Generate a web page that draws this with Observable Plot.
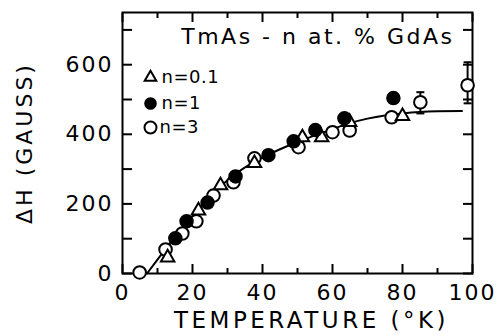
<!DOCTYPE html>
<html><head><meta charset="utf-8">
<script src="https://cdn.jsdelivr.net/npm/d3@7"></script>
<script src="https://cdn.jsdelivr.net/npm/@observablehq/plot@0.6"></script>
<style>
body{margin:0;background:#fff}
svg{font-family:"DejaVu Sans",sans-serif}
g[aria-label="x-axis tick label"] text, g[aria-label="y-axis tick label"] text {letter-spacing:2px}
g[aria-label="y-axis label"] text {letter-spacing:3px}
</style>
</head><body><div id="chart"></div>
<script>
// n = 0.1 (open triangles)
const triT = [12.9, 21.7, 28, 37.7, 51.4, 56.9, 64.9, 80];
const triH = [46, 181, 253, 317, 391, 391, 435, 452];
// n = 1 (filled circles)
const fillT = [15.1, 18.3, 24.3, 32.3, 41.7, 48.9, 55.1, 63.4, 77.4];
const fillH = [101, 150, 204, 279, 340, 380, 412, 446, 504];
// n = 3 (open circles)
const openT = [4.9, 12.3, 17.1, 21.1, 26, 31.7, 37.7, 50.3, 60, 64.9, 76.9, 85.1, 98.6];
const openH = [3, 69, 115, 150, 224, 262, 331, 363, 406, 411, 449, 492, 541];
// error bars (n = 3)
const errT = [85.1, 98.6];
const errLo = [460, 489];
const errHi = [521, 607];
// fitted curve
const fitT = [7, 10, 15, 20, 25, 30, 35, 40, 45, 50, 55, 60, 65, 70, 75, 80, 85, 90, 97];
const fitH = [0, 40, 105, 165, 220, 268, 305, 333, 357, 378, 397, 415, 432, 445, 454, 460, 464, 466, 467];
// ticks
const xMajor = [0, 20, 40, 60, 80, 100];
const xMinor = [10, 30, 50, 70, 90];
const yMajor = [0, 200, 400, 600];
const yMinor = [100, 300, 500, 700];
const titleText = "TmAs - n at. % GdAs";
const xLabel = "TEMPERATURE (°K)";
const yLabel = "ΔH (GAUSS)";
const legendLabels = ["n=0.1", "n=1", "n=3"];

const tri = triT.map((t, i) => ({t, h: triH[i]}));
const fil = fillT.map((t, i) => ({t, h: fillH[i]}));
const opn = openT.map((t, i) => ({t, h: openH[i]}));
const err = errT.map((t, i) => ({t, lo: errLo[i], hi: errHi[i]}));
const fit = fitT.map((t, i) => ({t, h: fitH[i]}));

const cap = {draw(ctx, size) { const w = 4; ctx.moveTo(-w, 0); ctx.lineTo(w, 0); }};
const fs = 22;
const sw = 2;
const tickOpts = {tickFormat: () => "", label: null, strokeWidth: sw};
const lg = {frameAnchor: "top-left", text: d => d, textAnchor: "start", lineAnchor: "middle", fontSize: 18};

const chart = Plot.plot({
  width: 498, height: 335,
  marginLeft: 122, marginRight: 26, marginTop: 12, marginBottom: 62,
  style: {fontFamily: "DejaVu Sans", fontSize: fs + "px", color: "#000", background: "#fff"},
  x: {domain: [0, 100]},
  y: {domain: [0, 750]},
  marks: [
    // inward ticks
    Plot.axisX(xMajor, {anchor: "bottom", tickSize: -9, ...tickOpts}),
    Plot.axisX(xMinor, {anchor: "bottom", tickSize: -5, ...tickOpts}),
    Plot.axisX(xMajor, {anchor: "top", tickSize: -9, ...tickOpts}),
    Plot.axisX(xMinor, {anchor: "top", tickSize: -5, ...tickOpts}),
    Plot.axisY(yMajor.concat(yMinor), {anchor: "left", tickSize: -10, ...tickOpts}),
    Plot.axisY(yMajor.concat(yMinor), {anchor: "right", tickSize: -10, ...tickOpts}),
    // labels
    Plot.axisX(xMajor, {anchor: "bottom", tickSize: 0, tickPadding: 11, fontSize: fs, label: null}),
    Plot.text([xLabel], {frameAnchor: "bottom", text: d => d, textAnchor: "middle", lineAnchor: "bottom",
      dx: 14, dy: 54, fontSize: 23}),
    Plot.axisY(yMajor, {anchor: "left", tickSize: 0, tickPadding: 9, fontSize: fs,
      label: yLabel, labelAnchor: "center", labelArrow: "none", labelOffset: 106}),
    Plot.frame({strokeWidth: sw}),
    // fit curve
    Plot.line(fit, {x: "t", y: "h", curve: "natural", strokeWidth: sw}),
    // error bars
    Plot.ruleX(err, {x: "t", y1: "lo", y2: "hi", strokeWidth: sw}),
    Plot.dot(err, {x: "t", y: "lo", symbol: cap, stroke: "black", strokeWidth: sw}),
    Plot.dot(err, {x: "t", y: "hi", symbol: cap, stroke: "black", strokeWidth: sw}),
    // data
    Plot.dot(opn, {x: "t", y: "h", r: 6.3, fill: "white", stroke: "black", strokeWidth: sw}),
    Plot.dot(tri, {x: "t", y: "h", r: 5, symbol: "triangle", fill: "white", stroke: "black", strokeWidth: sw}),
    Plot.dot(fil, {x: "t", y: "h", r: 6.5, fill: "black", stroke: "black"}),
    // title
    Plot.text([titleText], {frameAnchor: "top-right", text: d => d, textAnchor: "end", lineAnchor: "middle",
      dx: -18, dy: 24, fontSize: fs}),
    // legend
    Plot.dot([0], {frameAnchor: "top-left", dx: 28, dy: 65, r: 4.3, symbol: "triangle", fill: "white", stroke: "black", strokeWidth: sw}),
    Plot.dot([0], {frameAnchor: "top-left", dx: 28, dy: 91, r: 6.3, fill: "black"}),
    Plot.dot([0], {frameAnchor: "top-left", dx: 28, dy: 115, r: 6, fill: "white", stroke: "black", strokeWidth: sw}),
    Plot.text([legendLabels[0]], {...lg, dx: 39, dy: 65}),
    Plot.text([legendLabels[1]], {...lg, dx: 39, dy: 91}),
    Plot.text([legendLabels[2]], {...lg, dx: 37, dy: 115})
  ]
});
// letter spacing to match the wide lettering of the original
d3.select(chart).selectAll("text").each(function() {
  const t = this.textContent;
  if (t === titleText) this.style.letterSpacing = "2.5px";
  else if (t === xLabel) this.style.letterSpacing = "3.5px";
  else if (legendLabels.includes(t)) this.style.letterSpacing = "0.5px";
});
document.getElementById("chart").appendChild(chart);
</script>
</body></html>
